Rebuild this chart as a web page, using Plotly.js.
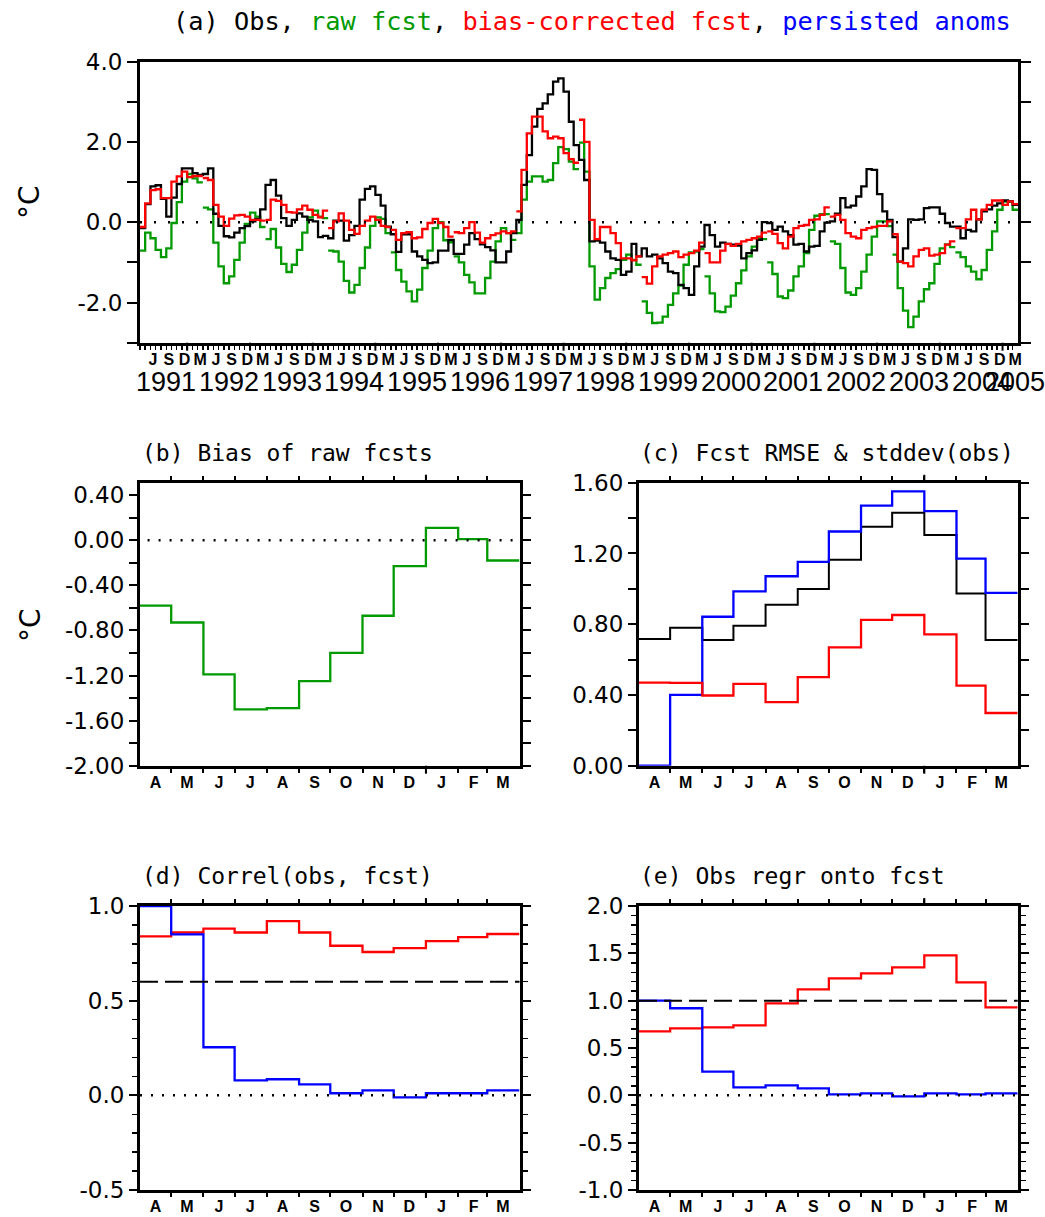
<!DOCTYPE html>
<html>
<head>
<meta charset="utf-8">
<script src="https://cdn.plot.ly/plotly-3.0.1.min.js"></script>
<style>html,body{margin:0;padding:0;background:#fff}#chart{width:1045px;height:1217px}</style>
</head>
<body>
<div id="chart"></div>
<script>
// ---------------- DATA ----------------
// Panel (a): monthly anomalies (deg C), Apr 1991 .. Mar 2005, one row per forecast year (Apr..Mar)
const obsAnom = [
  -0.15, 0.45, 0.89, 0.92, 0.58, 0.14, 0.61, 0.95, 1.34, 1.34, 1.22, 1.18,
   1.20, 1.34, 0.21,-0.09,-0.35,-0.38,-0.26,-0.15,-0.10, 0.02, 0.08, 0.32,
   0.93, 1.05, 0.66, 0.10,-0.09, 0.06, 0.22, 0.14, 0.06, 0.02,-0.37,-0.34,
  -0.40, 0.04, 0.04,-0.46,-0.32,-0.09, 0.56, 0.83, 0.89, 0.68, 0.41,-0.11,
  -0.30,-0.74,-0.30,-0.30,-0.73,-0.85,-0.94,-1.02,-1.00,-0.71,-0.71,-0.44,
  -0.79,-0.79,-0.56,-0.27,-0.42,-0.55,-0.62,-0.70,-1.00,-1.00,-0.73,-0.27,
   0.06, 0.93, 1.67, 2.38, 2.82, 2.96, 3.18, 3.50, 3.58, 3.25, 2.50, 1.92,
   1.55, 1.05,-0.48,-0.46,-0.51,-0.73,-0.90,-0.94,-1.31,-1.23,-0.54,-0.85,
  -0.65,-0.85,-0.81,-0.90,-1.02,-1.23,-1.27,-1.56,-1.64,-1.81,-1.10,-0.61,
  -0.07,-0.32,-0.61,-0.51,-0.54,-0.56,-0.58,-0.90,-0.77,-0.70,-0.44, 0.00,
  -0.02,-0.19,-0.11,-0.23,-0.32,-0.56,-0.54,-0.73,-0.61,-0.59,-0.23,-0.01,
   0.02, 0.21, 0.60, 0.37, 0.41, 0.64, 0.89, 1.32, 1.30, 0.70, 0.27, 0.06,
  -0.37,-0.98,-0.65, 0.07, 0.06, 0.07, 0.35, 0.37, 0.37, 0.21,-0.02,-0.11,
  -0.11,-0.40,-0.19,-0.23, 0.07, 0.27, 0.32, 0.41, 0.47, 0.54, 0.52, 0.43
];
const rawFcst = [
  -0.71,-0.26,-0.40,-0.69,-0.87,-0.65,-0.02, 0.50, 1.01, 1.20, 1.09, 0.99,
   0.36, 0.32,-0.51,-1.10,-1.52,-1.35,-0.94,-0.51,-0.04, 0.24, 0.14,-0.12,
  -0.42,-0.17,-0.63,-1.04,-1.24,-1.06,-0.69,-0.26, 0.12, 0.29, 0.14, 0.10,
  -0.71,-0.73,-0.98,-1.46,-1.75,-1.56,-1.14,-0.63,-0.09, 0.12, 0.08,-0.27,
  -0.75,-1.19,-1.48,-1.72,-1.97,-1.68,-1.14,-0.71,-0.15, 0.00,-0.45,-0.50,
  -0.85,-1.00,-1.31,-1.50,-1.77,-1.77,-1.39,-0.98,-0.48,-0.15,-0.27,-0.44,
  -0.27, 0.56, 1.01, 1.14, 1.14, 1.01, 1.05, 1.47, 1.87, 1.82, 1.51, 1.32,
   1.98, 1.26,-1.10,-1.93,-1.64,-1.39,-1.27,-1.17,-0.94,-0.81,-0.94,-1.06,
  -1.97,-2.26,-2.51,-2.50,-2.35,-2.06,-1.77,-1.58,-1.06,-0.75,-0.73,-0.67,
  -1.35,-1.77,-2.22,-2.24,-2.10,-1.83,-1.52,-1.20,-0.85,-0.61,-0.40,-0.42,
  -1.00,-1.29,-1.85,-1.89,-1.70,-1.35,-1.10,-0.77,-0.19, 0.16, 0.20, 0.20,
  -0.48,-0.54,-1.14,-1.75,-1.81,-1.64,-1.23,-0.81,-0.36, 0.02, 0.02,-0.10,
  -0.81,-1.64,-2.20,-2.61,-2.35,-1.97,-1.67,-1.52,-1.04,-0.65,-0.55,-0.62,
  -0.75,-0.87,-1.10,-1.23,-1.42,-1.19,-0.69,-0.23, 0.31, 0.51, 0.51, 0.31
];
const corrFcst = [
  -0.12, 0.47, 0.80, 0.82, 0.60, 0.60, 1.01, 1.14, 1.26, 1.12, 1.15, 1.15,
   1.10, 1.05, 0.43, 0.14,-0.09, 0.09, 0.17, 0.18, 0.14, 0.06, 0.06, 0.04,
   0.06, 0.56, 0.53, 0.43, 0.25, 0.24, 0.32, 0.41, 0.31, 0.18, 0.12, 0.29,
  -0.15, 0.02, 0.22, 0.04,-0.19,-0.29,-0.09, 0.04, 0.14, 0.06,-0.09,-0.12,
  -0.19,-0.44,-0.27,-0.25,-0.40,-0.38,-0.17,-0.02, 0.08,-0.02,-0.12,-0.36,
  -0.25,-0.27,-0.15, 0.00,-0.26,-0.51,-0.40,-0.32,-0.28,-0.23,-0.27,-0.23,
   0.27, 1.30, 2.21, 2.63, 2.63, 2.26, 2.09, 2.13, 2.09, 1.72, 1.57, 1.48,
   2.55, 2.00, 0.06,-0.42,-0.12,-0.12,-0.27,-0.52,-0.90,-0.90,-0.95,-0.85,
  -1.37,-1.53,-1.10,-0.85,-0.81,-0.77,-0.73,-0.87,-0.81,-0.77,-0.71,-0.51,
  -0.77,-1.00,-1.00,-0.71,-0.54,-0.59,-0.54,-0.48,-0.44,-0.40,-0.36,-0.26,
  -0.23,-0.29,-0.52,-0.65,-0.36,-0.15,-0.09,-0.07, 0.06, 0.07, 0.18, 0.37,
   0.14, 0.18, 0.06,-0.27,-0.36,-0.40,-0.19,-0.15,-0.12,-0.09,-0.09, 0.02,
  -0.30,-0.98,-1.02,-1.10,-0.85,-0.69,-0.65,-0.83,-0.81,-0.77,-0.56,-0.48,
  -0.15,-0.15, 0.07, 0.31, 0.07, 0.31, 0.43, 0.54, 0.54, 0.43, 0.52, 0.45
];
const yearLabels = [1991,1992,1993,1994,1995,1996,1997,1998,1999,2000,2001,2002,2003,2004,2005];

// Panels (b)-(e): by target month, April .. March
const monthLetters = ['A','M','J','J','A','S','O','N','D','J','F','M'];
const biasRaw      = [-0.58,-0.73,-1.19,-1.50,-1.49,-1.25,-1.00,-0.67,-0.23, 0.11, 0.01,-0.18];
const stddevObs    = [0.716,0.780,0.710,0.791,0.910,0.999,1.164,1.351,1.430,1.305,0.973,0.710];
const rmsePersist  = [0.000,0.400,0.842,0.986,1.071,1.152,1.324,1.470,1.551,1.439,1.171,0.977];
const rmseCorr     = [0.470,0.468,0.397,0.463,0.359,0.501,0.669,0.824,0.852,0.742,0.453,0.298];
const correlFcst   = [0.84, 0.86, 0.88, 0.86, 0.92, 0.86, 0.79, 0.757,0.778,0.815,0.836,0.852];
const correlPersist= [1.00, 0.85, 0.254,0.079,0.085,0.058,0.011,0.026,-0.011,0.011,0.011,0.026];
const regrFcst     = [0.676,0.707,0.718,0.739,0.971,1.119,1.235,1.288,1.352,1.478,1.193,0.929];
const regrPersist  = [1.00, 0.92, 0.25, 0.085,0.106,0.074,0.011,0.021,-0.011,0.021,0.011,0.021];

// ---------------- HELPERS ----------------
const GREEN = '#009a00', RED = '#ff0000', BLUE = '#0000ff', BLACK = '#000000';
const F_TICK = 'DejaVu Sans, sans-serif';
const F_LAB = 'Liberation Sans, Arial, sans-serif';
const F_TITLE = 'DejaVu Sans Mono, monospace';

function dateStr(y, m, d) { return new Date(Date.UTC(y, m - 1, d)).toISOString().slice(0, 10); }
const A_Y = 1991, A_M = 4;        // panel (a) starts April 1991
const C_Y = 2001, C_M = 4;        // climatological year for panels (b)-(e)
const aStart = i => dateStr(A_Y, A_M + i, 1);
const aMid   = i => dateStr(A_Y, A_M + i, 16);
const cStart = i => dateStr(C_Y, C_M + i, 1);
const cMid   = i => dateStr(C_Y, C_M + i, 16);

// step series: each segment of segLen months drawn as a staircase, segments separated by gaps
function steps(values, startFn, segLen) {
  const xs = [], ys = [];
  for (let s = 0; s < values.length; s += segLen) {
    if (s > 0) { xs.push(startFn(s)); ys.push(null); }
    for (let i = s; i < s + segLen; i++) { xs.push(startFn(i)); ys.push(values[i]); }
    xs.push(startFn(s + segLen)); ys.push(values[s + segLen - 1]);
  }
  return {xs, ys};
}
function stepTrace(values, startFn, segLen, color, xa, ya, width) {
  const st = steps(values, startFn, segLen);
  return {type: 'scatter', mode: 'lines', x: st.xs, y: st.ys, xaxis: xa, yaxis: ya,
          line: {shape: 'hv', color: color, width: width || 2.3}, connectgaps: false,
          hoverinfo: 'x+y', showlegend: false};
}

const nA = obsAnom.length;
const traces = [
  stepTrace(rawFcst,  aStart, 12, GREEN, 'x', 'y'),
  stepTrace(obsAnom,  aStart, nA, BLACK, 'x', 'y'),
  stepTrace(corrFcst, aStart, 12, RED,   'x', 'y'),
  stepTrace(biasRaw,  cStart, 12, GREEN, 'x2', 'y2'),
  stepTrace(stddevObs,   cStart, 12, BLACK, 'x3', 'y3', 2),
  stepTrace(rmsePersist, cStart, 12, BLUE,  'x3', 'y3'),
  stepTrace(rmseCorr,    cStart, 12, RED,   'x3', 'y3'),
  stepTrace(correlFcst,    cStart, 12, RED,  'x4', 'y4'),
  stepTrace(correlPersist, cStart, 12, BLUE, 'x4', 'y4'),
  stepTrace(regrFcst,    cStart, 12, RED,  'x5', 'y5'),
  stepTrace(regrPersist, cStart, 12, BLUE, 'x5', 'y5')
];

// ---------------- AXES ----------------
const W = 1045, H = 1217;
const px = v => v / W, py = v => 1 - v / H;

const aLetterVals = [], aLetterText = [], aMonthStarts = [], aJanStarts = [];
for (let i = 0; i < nA; i++) {
  if (i % 12 === 2 || i % 12 === 5 || i % 12 === 8 || i % 12 === 11) {
    aLetterVals.push(aMid(i)); aLetterText.push(monthLetters[i % 12]);
  }
  aMonthStarts.push(aStart(i));
  if (i % 12 === 9) aJanStarts.push(aStart(i));
}
const cMids = monthLetters.map((_, i) => cMid(i));
const cStarts = monthLetters.map((_, i) => cStart(i));

const letterFont = {family: F_LAB, size: 16, color: BLACK, weight: 'bold'};
const tickFont = {family: F_TICK, size: 23, color: BLACK};

function climX(domain, anchor) {
  return {type: 'date', domain: domain, anchor: anchor, range: [cStart(0), cStart(12)],
          showline: true, linecolor: BLACK, linewidth: 3, mirror: 'ticks', showgrid: false, zeroline: false,
          tickmode: 'array', tickvals: cMids, ticktext: monthLetters, ticks: '', tickfont: letterFont,
          minor: {tickmode: 'array', tickvals: cStarts.slice(1), ticks: 'outside', ticklen: 4, tickwidth: 2, tickcolor: BLACK, showgrid: false}};
}
function fmtLabels(vals, every, dec) {
  return vals.map((v, k) => (k % every === 0 ? v.toFixed(dec) : ''));
}
function climY(domain, anchor, range, vals, every, dec, minorDt) {
  const ax = {domain: domain, anchor: anchor, range: range, showline: true, linecolor: BLACK, linewidth: 3,
          mirror: 'ticks', showgrid: false, zeroline: false, tickmode: 'array', tickvals: vals,
          ticktext: fmtLabels(vals, every, dec), ticks: 'outside', ticklen: 8, tickwidth: 2, tickcolor: BLACK,
          tickfont: tickFont};
  if (minorDt) ax.minor = {tickmode: 'linear', tick0: 0, dtick: minorDt, ticks: 'outside', ticklen: 5, tickwidth: 1.5, tickcolor: BLACK, showgrid: false};
  return ax;
}
const seq = (a, b, d) => { const r = []; for (let v = a; v <= b + 1e-9; v += d) r.push(Math.round(v * 100) / 100); return r; };

const pA = {l: 140, r: 1018, t: 61.5, b: 342.7};
const pB = {l: 140, r: 519.5, t: 482.7, b: 765.7};
const pC = {l: 639, r: 1017.7, t: 482.7, b: 765.7};
const pD = {l: 140, r: 519.5, t: 906, b: 1190};
const pE = {l: 639, r: 1017.7, t: 906, b: 1190};
const dx = p => [px(p.l), px(p.r)], dy = p => [py(p.b), py(p.t)];

const layout = {
  width: W, height: H, margin: {l: 0, r: 0, t: 0, b: 0}, paper_bgcolor: '#fff', plot_bgcolor: '#fff',
  showlegend: false,
  xaxis: {type: 'date', domain: dx(pA), anchor: 'y', range: [aStart(0), aStart(nA)], showline: true, linecolor: BLACK, linewidth: 3,
          mirror: true, showgrid: false, zeroline: false, tickmode: 'array', tickvals: aLetterVals,
          ticktext: aLetterText, ticks: '', tickfont: letterFont,
          minor: {tickmode: 'array', tickvals: aMonthStarts, ticks: 'outside', ticklen: 4, tickwidth: 1.5, tickcolor: BLACK, showgrid: false}},
  yaxis: {domain: dy(pA), anchor: 'x', range: [-3, 4], showline: true, linecolor: BLACK, linewidth: 3, mirror: 'ticks',
          showgrid: false, zeroline: false, tickmode: 'array', tickvals: seq(-3, 4, 1),
          ticktext: seq(-3, 4, 1).map(v => (Math.round(v) % 2 === 0 ? v.toFixed(1) : '')),
          ticks: 'outside', ticklen: 10, tickwidth: 2, tickcolor: BLACK, tickfont: tickFont},
  xaxis2: climX(dx(pB), 'y2'), yaxis2: climY(dy(pB), 'x2', [-2, 0.51], seq(-2, 0.4, 0.2), 2, 2),
  xaxis3: climX(dx(pC), 'y3'), yaxis3: climY(dy(pC), 'x3', [0, 1.6], seq(0, 1.6, 0.2), 2, 2),
  xaxis4: climX(dx(pD), 'y4'), yaxis4: climY(dy(pD), 'x4', [-0.5, 1.0], seq(-0.5, 1.0, 0.5), 1, 1, 0.1),
  xaxis5: climX(dx(pE), 'y5'), yaxis5: climY(dy(pE), 'x5', [-1, 2], seq(-1, 2, 0.5), 1, 1, 0.1),
  shapes: [
    {type: 'line', xref: 'x domain', x0: 0, x1: 1, yref: 'y', y0: 0, y1: 0, line: {color: BLACK, width: 2.5, dash: '2px,12px'}},
    {type: 'line', xref: 'x2 domain', x0: 0.02, x1: 1, yref: 'y2', y0: 0, y1: 0, line: {color: BLACK, width: 2.5, dash: '2px,9px'}},
    {type: 'line', xref: 'x4 domain', x0: 0, x1: 1, yref: 'y4', y0: 0, y1: 0, line: {color: BLACK, width: 2.5, dash: '2px,9px'}},
    {type: 'line', xref: 'x5 domain', x0: 0, x1: 1, yref: 'y5', y0: 0, y1: 0, line: {color: BLACK, width: 2.5, dash: '2px,9px'}},
    {type: 'line', xref: 'x4 domain', x0: 0, x1: 1, yref: 'y4', y0: 0.6, y1: 0.6, line: {color: BLACK, width: 2, dash: '18px,7px'}},
    {type: 'line', xref: 'x5 domain', x0: 0, x1: 1, yref: 'y5', y0: 1.0, y1: 1.0, line: {color: BLACK, width: 2, dash: '18px,7px'}}
  ],
  annotations: []
};

// longer year-boundary (January) ticks
aJanStarts.forEach(d => layout.shapes.push({type: 'line', xref: 'x', x0: d, x1: d, yref: 'paper',
  y0: py(pA.b), y1: py(pA.b + 8), line: {color: BLACK, width: 2}}));
[['x2', pB], ['x3', pC], ['x4', pD], ['x5', pE]].forEach(([xa, p]) => {
  layout.shapes.push({type: 'line', xref: xa, x0: cStart(9), x1: cStart(9), yref: 'paper', y0: py(p.b), y1: py(p.b + 8), line: {color: BLACK, width: 2}});
  layout.shapes.push({type: 'line', xref: xa, x0: cStart(9), x1: cStart(9), yref: 'paper', y0: py(p.t), y1: py(p.t - 8), line: {color: BLACK, width: 2}});
});

const ann = layout.annotations;
ann.push({xref: 'paper', yref: 'paper', x: px(171), y: py(22), xanchor: 'left', yanchor: 'middle', showarrow: false,
  font: {family: F_TITLE, size: 25.3, color: BLACK},
  text: '(a) Obs, <span style="color:' + GREEN + '">raw fcst</span>, <span style="color:' + RED + '">bias-corrected fcst</span>, <span style="color:' + BLUE + '">persisted anoms</span>'});
const subTitles = [['(b) Bias of raw fcsts', 140, 453], ['(c) Fcst RMSE & stddev(obs)', 638, 453],
                   ['(d) Correl(obs, fcst)', 140, 876], ['(e) Obs regr onto fcst', 638, 876]];
subTitles.forEach(t => ann.push({xref: 'paper', yref: 'paper', x: px(t[1]), y: py(t[2]), xanchor: 'left', yanchor: 'middle',
  showarrow: false, text: t[0], font: {family: F_TITLE, size: 23, color: BLACK}}));
[[30, 202], [30, 625]].forEach(p => ann.push({xref: 'paper', yref: 'paper', x: px(p[0]), y: py(p[1]), xanchor: 'center', yanchor: 'middle',
  showarrow: false, text: '°C', textangle: -90, font: {family: F_TICK, size: 28, color: BLACK}}));
yearLabels.forEach((yr, k) => ann.push({xref: 'x', yref: 'paper',
  x: k < yearLabels.length - 1 ? dateStr(yr, 9, 1) : aMid(nA - 1), y: py(382), xanchor: 'center', yanchor: 'middle',
  showarrow: false, text: String(yr), font: {family: F_LAB, size: 27, color: BLACK}}));

Plotly.newPlot('chart', traces, layout, {staticPlot: true, displayModeBar: false});
</script>
</body>
</html>
